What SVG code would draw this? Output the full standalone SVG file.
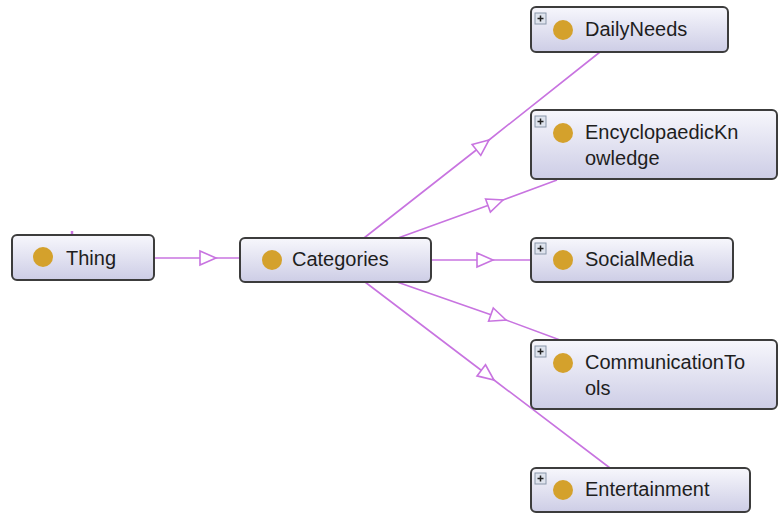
<svg xmlns="http://www.w3.org/2000/svg" width="778" height="514" viewBox="0 0 778 514">
<defs>
<linearGradient id="ng" x1="0" y1="0" x2="0" y2="1">
<stop offset="0" stop-color="#f7f7fc"/>
<stop offset="1" stop-color="#cdcde6"/>
</linearGradient>
<marker id="tri" markerUnits="userSpaceOnUse" markerWidth="20" markerHeight="16" refX="17" refY="8" orient="auto" overflow="visible">
<path d="M1,1 L17,8 L1,15 Z" fill="#ffffff" stroke="#c874e0" stroke-width="1.6" stroke-linejoin="miter"/>
</marker>
</defs>
<style>
.box{fill:url(#ng);stroke:#3c3c3c;stroke-width:2}
.dot{fill:#d4a12c}
.lbl{font-family:"Liberation Sans",Arial,sans-serif;font-size:20px;fill:#1e1e1e}
.pb{fill:#dfe4ee;stroke:#8a97aa;stroke-width:1}
.pl{stroke:#222;stroke-width:1.5}
.edge{fill:none;stroke:#c874e0;stroke-width:1.6;marker-mid:url(#tri)}
</style>
<rect width="778" height="514" fill="#ffffff"/>
<g id="connectors">
<line x1="72" y1="231" x2="72" y2="235" stroke="#c874e0" stroke-width="2.5"/>
<polyline class="edge" points="155,258 216,258 240,258"/>
<polyline class="edge" points="364,238 489,140 600,52"/>
<polyline class="edge" points="398,238 503,200 557,180"/>
<polyline class="edge" points="431,260 493,260 531,260"/>
<polyline class="edge" points="397,282 506,320 560,340"/>
<polyline class="edge" points="365,282 494,380 610,468"/>
</g>
<g id="node-thing">
<rect class="box" x="12" y="235" width="142" height="45" rx="5"/>
<circle class="dot" cx="43" cy="257" r="10"/>
<text class="lbl" x="66" y="265">Thing</text>
</g>
<g id="node-categories">
<rect class="box" x="240" y="238" width="191" height="44" rx="5"/>
<circle class="dot" cx="272" cy="260" r="10"/>
<text class="lbl" x="292" y="266">Categories</text>
</g>
<g id="node-dailyneeds">
<rect class="box" x="531" y="7" width="197" height="45" rx="5"/>
<rect class="pb" x="535" y="13" width="11" height="11"/>
<path class="pl" d="M537.5,18.5 H543.5 M540.5,15.5 V21.5"/>
<circle class="dot" cx="563" cy="30" r="10"/>
<text class="lbl" x="585" y="36">DailyNeeds</text>
</g>
<g id="node-encyclopaedic">
<rect class="box" x="531" y="110" width="246" height="69" rx="5"/>
<rect class="pb" x="535" y="116" width="11" height="11"/>
<path class="pl" d="M537.5,121.5 H543.5 M540.5,118.5 V124.5"/>
<circle class="dot" cx="563" cy="133" r="10"/>
<text class="lbl" x="585" y="139">EncyclopaedicKn</text>
<text class="lbl" x="585" y="165">owledge</text>
</g>
<g id="node-socialmedia">
<rect class="box" x="531" y="238" width="202" height="44" rx="5"/>
<rect class="pb" x="535" y="243" width="11" height="11"/>
<path class="pl" d="M537.5,248.5 H543.5 M540.5,245.5 V251.5"/>
<circle class="dot" cx="563" cy="260" r="10"/>
<text class="lbl" x="585" y="266">SocialMedia</text>
</g>
<g id="node-communicationtools">
<rect class="box" x="531" y="340" width="246" height="69" rx="5"/>
<rect class="pb" x="535" y="346" width="11" height="11"/>
<path class="pl" d="M537.5,351.5 H543.5 M540.5,348.5 V354.5"/>
<circle class="dot" cx="563" cy="363" r="10"/>
<text class="lbl" x="585" y="369">CommunicationTo</text>
<text class="lbl" x="585" y="395">ols</text>
</g>
<g id="node-entertainment">
<rect class="box" x="531" y="468" width="219" height="44" rx="5"/>
<rect class="pb" x="535" y="473" width="11" height="11"/>
<path class="pl" d="M537.5,478.5 H543.5 M540.5,475.5 V481.5"/>
<circle class="dot" cx="563" cy="490" r="10"/>
<text class="lbl" x="585" y="496">Entertainment</text>
</g>
</svg>
